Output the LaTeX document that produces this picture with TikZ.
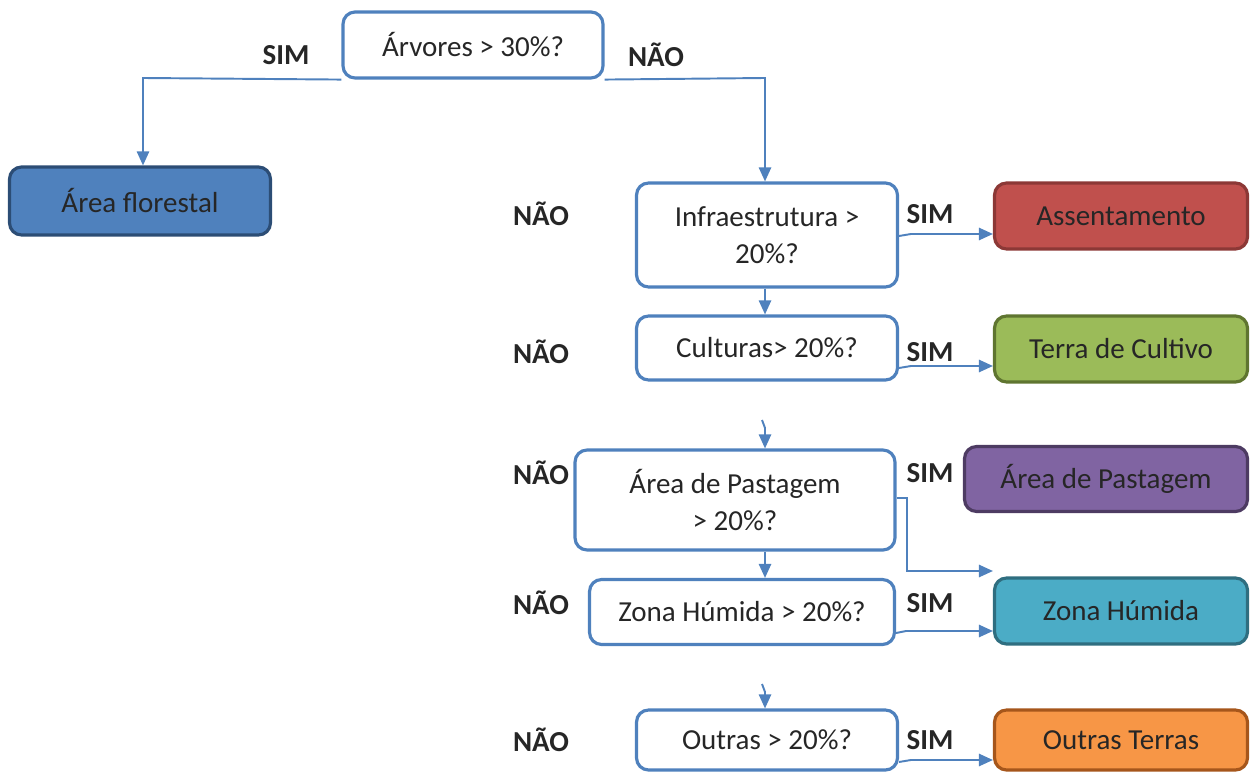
\documentclass[tikz,border=0pt]{standalone}
\usepackage{fontspec}
\setmainfont{Carlito}
\usetikzlibrary{arrows.meta}
\definecolor{qb}{HTML}{4F81BD}
\definecolor{cb}{HTML}{4F81BD}
\definecolor{txt}{HTML}{262626}
\definecolor{fblue}{HTML}{4F81BD}\definecolor{dblue}{HTML}{2C4D75}
\definecolor{fred}{HTML}{C0504D}\definecolor{dred}{HTML}{8C3836}
\definecolor{fgreen}{HTML}{9BBB59}\definecolor{dgreen}{HTML}{5F7530}
\definecolor{fpurple}{HTML}{8064A2}\definecolor{dpurple}{HTML}{4D3B62}
\definecolor{fteal}{HTML}{4BACC6}\definecolor{dteal}{HTML}{2F6E80}
\definecolor{forange}{HTML}{F79646}\definecolor{dorange}{HTML}{A6561B}
\begin{document}
\begin{tikzpicture}[x=0.02cm,y=-0.02cm,
  base/.style={line width=1.8pt, rounded corners=0.24cm, text=txt, align=center, inner sep=0pt,
    font=\fontsize{16.5}{21}\selectfont},
  q/.style={base, draw=qb, fill=white},
  res/.style={base, minimum width=5.06cm, minimum height=1.32cm},
  lbl/.style={font=\bfseries\fontsize{16.5}{20}\selectfont, text=txt},
  conn/.style={draw=cb, line width=1.1pt, -{Triangle[length=8pt,width=7pt]}}]
\useasboundingbox (0,0) rectangle (1250,773);

% question nodes
\node[q, minimum width=5.2cm, minimum height=1.32cm] (q1) at (473,45) {Árvores > 30\%?};
\node[q, minimum width=5.22cm, minimum height=2.08cm] (q2) at (767,235) {Infraestrutura >\\20\%?};
\node[q, minimum width=5.22cm, minimum height=1.28cm] (q3) at (767,348) {Culturas> 20\%?};
\node[q, minimum width=6.4cm, minimum height=2.0cm] (q4) at (735,500) {Área de Pastagem\\> 20\%?};
\node[q, minimum width=6.1cm, minimum height=1.3cm] (q5) at (742,612) {Zona Húmida > 20\%?};
\node[q, minimum width=5.22cm, minimum height=1.2cm] (q6) at (767,740) {Outras > 20\%?};

% result nodes
\node[base, draw=dblue, fill=fblue, minimum width=5.22cm, minimum height=1.36cm] (r0) at (140,201) {Área florestal};
\node[res, draw=dred, fill=fred] (r1) at (1121,216) {Assentamento};
\node[res, draw=dgreen, fill=fgreen] (r2) at (1121,349) {Terra de Cultivo};
\node[base, draw=dpurple, fill=fpurple, minimum width=5.66cm, minimum height=1.3cm] (r3) at (1106,479) {Área de Pastagem};
\node[res, draw=dteal, fill=fteal] (r4) at (1121,611) {Zona Húmida};
\node[res, draw=dorange, fill=forange, minimum height=1.2cm] (r5) at (1121,740) {Outras Terras};

% labels
\node[lbl] (l1) at (286,55) {SIM};
\node[lbl] (l2) at (656,55) {NÃO};
\node[lbl] (n2) at (541,214) {NÃO};
\node[lbl] (s2) at (930,214) {SIM};
\node[lbl] (n3) at (541,352) {NÃO};
\node[lbl] (s3) at (930,352) {SIM};
\node[lbl] (n4) at (541,473) {NÃO};
\node[lbl] (s4) at (930,473) {SIM};
\node[lbl] (n5) at (541,603) {NÃO};
\node[lbl] (s5) at (930,603) {SIM};
\node[lbl] (n6) at (541,740) {NÃO};
\node[lbl] (s6) at (930,740) {SIM};

% connectors
\coordinate (c1) at (143,78);
\coordinate (c2) at (765,78);
\draw[conn] (q1.south west) -- (c1) -- (r0.north -| c1);
\draw[conn] (q1.south east) -- (c2) -- (q2.north -| c2);
\draw[conn] (q2.south -| c2) -- (q3.north -| c2);
\draw[conn] (q2.east |- 0,236) -- ++(12,-2) -- (r1.west |- 0,234);
\draw[conn] (q3.east |- 0,368) -- ++(12,-2) -- (r2.west |- 0,366);
\coordinate (s1) at (762,420);
\draw[conn] (s1) -- (765,428) -- (q4.north -| c2);
\coordinate (p1) at (907,498);
\draw[conn] (q4.east |- p1) -- (p1) -- (907,571) -- (r4.west |- 0,571);
\draw[conn] (q4.south -| c2) -- (q5.north -| c2);
\draw[conn] (q5.east |- 0,633) -- ++(10,-2) -- (r4.west |- 0,631);
\coordinate (s2c) at (762,684);
\draw[conn] (s2c) -- (765,692) -- (q6.north -| c2);
\draw[conn] (q6.east |- 0,762) -- ++(12,-2) -- (r5.west |- 0,760);
\end{tikzpicture}
\end{document}
